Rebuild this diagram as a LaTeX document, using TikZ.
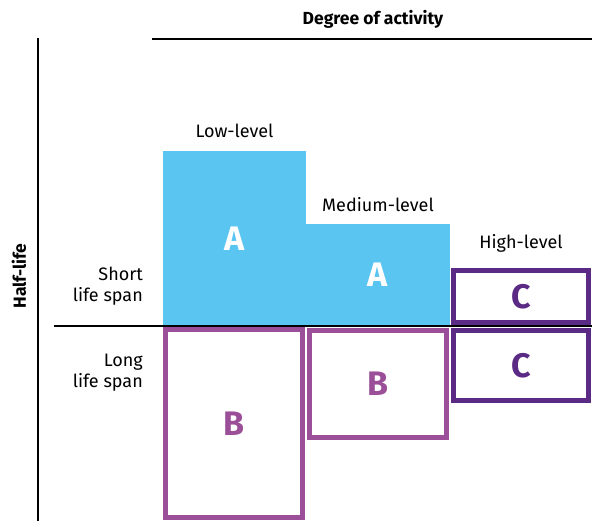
\documentclass[tikz,border=0pt]{standalone}
\usepackage{fontspec}
\setmainfont{Fira Sans}
\usetikzlibrary{positioning}
\definecolor{skyblue}{HTML}{5BC5F2}
\definecolor{lightpurple}{HTML}{9B4F98}
\definecolor{darkpurple}{HTML}{5A2A84}
\tikzstyle{shorttype} = [rectangle, fill=skyblue, text=white, inner sep=0pt, font=\fontsize{34}{40}\selectfont\bfseries]
\tikzstyle{longtype} = [rectangle, draw=lightpurple, line width=5pt, text=lightpurple, inner sep=0pt, font=\fontsize{34}{40}\selectfont\bfseries]
\tikzstyle{hightype} = [rectangle, draw=darkpurple, line width=5pt, text=darkpurple, inner sep=0pt, font=\fontsize{34}{40}\selectfont\bfseries]
\tikzstyle{level} = [inner sep=0pt, font=\fontsize{18}{21}\selectfont]
\tikzstyle{heading} = [inner sep=0pt, font=\fontsize{17.5}{21}\selectfont\bfseries]
\tikzstyle{axis} = [line width=2pt]

\begin{document}
\begin{tikzpicture}[x=1pt, y=-1pt]
\useasboundingbox (0,0) rectangle (592,521);

% Axes
\coordinate (activityStart) at (152,39);
\coordinate (activityEnd) at (592,39);
\coordinate (lifeTop) at (38,38);
\coordinate (lifeBottom) at (38,521);
\coordinate (spanStart) at (54,326);
\coordinate (spanEnd) at (592,326);
\draw [axis] (activityStart) -- (activityEnd);
\draw [axis] (lifeTop) -- (lifeBottom);

% Blocks
\node (lowA) [shorttype, minimum width=143pt, minimum height=175pt] at (234.5,238.5) {A};
\node (mediumA) [shorttype, minimum width=144pt, minimum height=102pt] at (378,275) {A};
\draw [axis] (spanStart) -- (spanEnd);
\node (lowB) [longtype, minimum width=137pt, minimum height=188pt] at (234,423.5) {B};
\node (mediumB) [longtype, minimum width=137pt, minimum height=107pt] at (378,384) {B};
\node (highShort) [hightype, minimum width=135pt, minimum height=52pt] at (521,296.5) {C};
\node (highLong) [hightype, minimum width=135pt, minimum height=70pt] at (521,365.5) {C};

% Labels
\node (activity) [heading] at (373,19) {Degree of activity};
\node (halfLife) [heading, rotate=90] at (19,276) {Half-life};
\node (lowLabel) [level, above=13pt of lowA] {Low-level};
\node (mediumLabel) [level, above=12pt of mediumA] {Medium-level};
\node (highLabel) [level, above=15pt of highShort] {High-level};
\node (shortSpan) [level, align=right, anchor=east] at (143,286) {Short\\life span};
\node (longSpan) [level, align=right, anchor=east] at (143,372.5) {Long\\life span};

\end{tikzpicture}
\end{document}
